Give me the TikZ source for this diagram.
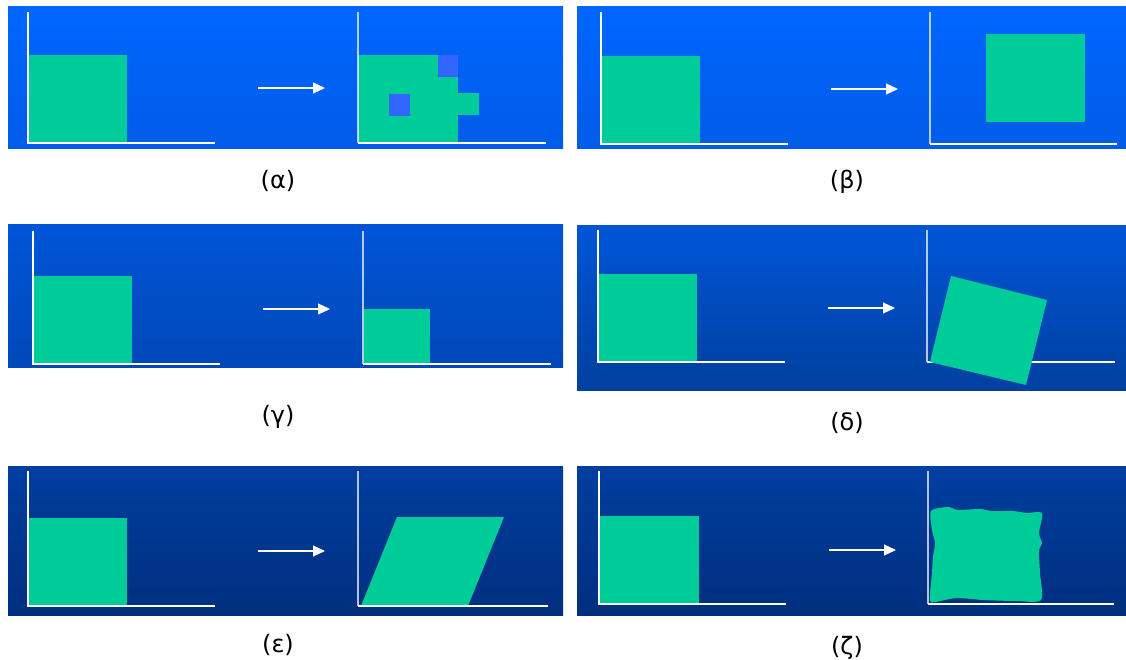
\documentclass[tikz,border=0pt]{standalone}
\usepackage{fontspec}
\setmainfont{DejaVu Sans}
\usetikzlibrary{arrows.meta}
\definecolor{patchgreen}{RGB}{0,204,153}
\definecolor{holeblue}{RGB}{51,102,255}
\definecolor{bandA}{RGB}{0,102,255}
\definecolor{bandB}{RGB}{0,92,232}
\definecolor{bandC}{RGB}{0,85,215}
\definecolor{bandD}{RGB}{0,72,185}
\definecolor{bandE}{RGB}{0,64,160}
\definecolor{bandF}{RGB}{0,62,160}
\definecolor{bandG}{RGB}{0,47,126}

\begin{document}
\begin{tikzpicture}[x=1pt, y=-1pt,
  axisline/.style={white, line width=1.1pt},
  faintaxis/.style={white, opacity=.7, line width=1.1pt},
  greenpatch/.style={fill=patchgreen},
  maparrow/.style={white, line width=1.1pt, -{Triangle[length=12pt,width=11pt]}},
  panellabel/.style={font=\fontsize{24}{28}\selectfont, inner sep=0pt}]
\fill[white] (0,0) rectangle (1126,660);
\useasboundingbox (0,0) rectangle (1126,660);

% backgrounds
\fill[top color=bandA, bottom color=bandB] (8,7) rectangle (563,149);
\fill[top color=bandA, bottom color=bandB] (577,7) rectangle (1126,149);
\fill[top color=bandC, bottom color=bandD] (8,225) rectangle (563,367);
\fill[top color=bandC, bottom color=bandE] (577,226) rectangle (1126,390);
\fill[top color=bandF, bottom color=bandG] (8,466) rectangle (563,615);
\fill[top color=bandF, bottom color=bandG] (577,466) rectangle (1126,615);

% original squares
\foreach \ox/\oy in {28/143, 601/144, 33/364, 598/362, 28/606, 600/604}
  \fill[greenpatch] (\ox,\oy-88) rectangle (\ox+99,\oy);

% (a) noise
\fill[greenpatch] (358,55) rectangle (458,143);
\fill[greenpatch] (458,93) rectangle (479,115);
\fill[holeblue] (438,55) rectangle (458,77);
\fill[holeblue] (389,94) rectangle (410,116);
% (b) translation
\fill[greenpatch] (986,34) rectangle (1085,122);
% (c) scaling
\fill[greenpatch] (364,309) rectangle (430,364);
% (e) shear
\fill[greenpatch] (361,606) -- (397,517) -- (504,517) -- (468,606) -- cycle;
% (f) warping
\fill[greenpatch] plot[smooth cycle, tension=.45] coordinates {
  (931,511) (948,507) (958,510) (980,509) (992,511) (1013,511) (1027,513)
  (1042,513) (1039,533) (1042,543) (1039,551) (1040,573) (1041,600)
  (1017,601) (983,600) (957,598) (940,601) (930,601) (932,573) (933,557)
  (935,543) (932,530)};

% axes
\foreach \ox/\oy/\ty/\ex in {28/143/12/215, 601/144/12/788, 33/364/231/220,
    598/362/230/785, 28/606/471/215, 599/604/471/786} {
  \draw[axisline] (\ox,\ty) -- (\ox,\oy) -- (\ex,\oy);
}
\foreach \ox/\oy/\ty/\ex in {358/143/12/546, 930/144/12/1117, 363/364/231/551,
    927/362/230/1115, 358/606/471/548, 928/604/471/1114} {
  \draw[faintaxis] (\ox,\ty) -- (\ox,\oy);
  \draw[axisline] (\ox,\oy) -- (\ex,\oy);
}

% (d) rotation, on top of its axes
\fill[greenpatch] (951,276) -- (1047,300) -- (1026,385) -- (930,362) -- cycle;

% arrows
\foreach \n/\ax/\ay in {a/258/88, b/831/89, c/263/309, d/828/308, e/258/551, f/829/550} {
  \coordinate (\n-from) at (\ax,\ay);
  \coordinate (\n-to) at (\ax+67,\ay);
  \draw[maparrow] (\n-from) -- (\n-to);
}

% labels
\node[panellabel] (lab-a) at (278,181) {(α)};
\node[panellabel] (lab-b) at (847,182) {(β)};
\node[panellabel] (lab-c) at (278,417) {(γ)};
\node[panellabel] (lab-d) at (847,423) {(δ)};
\node[panellabel] (lab-e) at (278,645) {(ε)};
\node[panellabel] (lab-f) at (847,648) {(ζ)};
\end{tikzpicture}
\end{document}
